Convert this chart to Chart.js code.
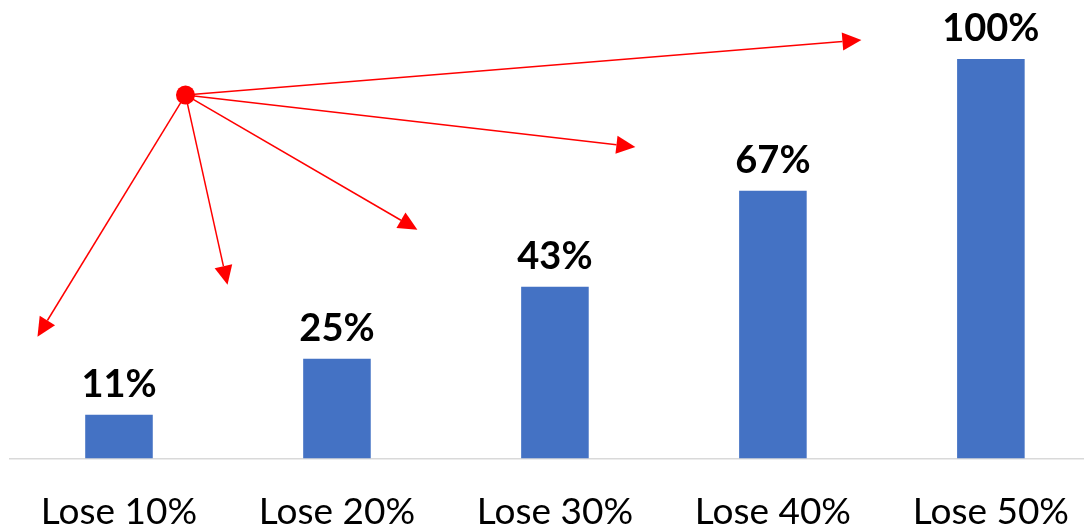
<!DOCTYPE html>
<html>
<head>
<meta charset="utf-8">
<script src="https://cdn.jsdelivr.net/npm/chart.js@4/dist/chart.umd.min.js"></script>
<style>
  html, body { margin: 0; padding: 0; background: #fff; overflow: hidden; }
  #wrap { width: 1100px; height: 565px; }
</style>
</head>
<body>
<div id="wrap"><canvas id="chart"></canvas></div>
<script>
// chart data
const categories = ['Lose 10%', 'Lose 20%', 'Lose 30%', 'Lose 40%', 'Lose 50%'];
const values = [11, 25, 43, 67, 100];

// arrows: one shared start point, tips given in data space (category index, value)
const arrowStart = [0.305, 91];
const arrowTipsX = [-0.374, 0.498, 1.369, 2.369, 3.406];
const arrowTipsY = [30.5, 43.5, 57.25, 78, 104.75];

// value labels above the bars
const barLabels = {
    id: 'barLabels',
    afterDatasetsDraw(chart) {
        let ctx = chart.ctx;
        let meta = chart.getDatasetMeta(0);
        ctx.save();
        ctx.font = 'bold 38px Lato, "Open Sans", sans-serif';
        ctx.fillStyle = '#000';
        ctx.textAlign = 'center';
        ctx.textBaseline = 'alphabetic';
        meta.data.forEach((bar, i) => {
            ctx.fillText(values[i] + '%', bar.x, bar.y - 18);
        });
        ctx.restore();
    }
};

// red arrows drawn through the chart scales
const arrows = {
    id: 'arrows',
    afterDatasetsDraw(chart) {
        let ctx = chart.ctx;
        let xs = chart.scales.x, ys = chart.scales.y;
        let sx = xs.getPixelForValue(arrowStart[0]);
        let sy = ys.getPixelForValue(arrowStart[1]);
        ctx.save();
        ctx.strokeStyle = '#ff0000';
        ctx.fillStyle = '#ff0000';
        ctx.lineWidth = 1.5;
        arrowTipsX.forEach((tx, i) => {
            let ex = xs.getPixelForValue(tx);
            let ey = ys.getPixelForValue(arrowTipsY[i]);
            let ang = Math.atan2(ey - sy, ex - sx);
            let len = 19, half = 9;
            let bx = ex - len * Math.cos(ang), by = ey - len * Math.sin(ang);
            ctx.beginPath();
            ctx.moveTo(sx, sy);
            ctx.lineTo(bx, by);
            ctx.stroke();
            ctx.beginPath();
            ctx.moveTo(ex, ey);
            ctx.lineTo(bx + half * Math.sin(ang), by - half * Math.cos(ang));
            ctx.lineTo(bx - half * Math.sin(ang), by + half * Math.cos(ang));
            ctx.closePath();
            ctx.fill();
        });
        ctx.beginPath();
        ctx.arc(sx, sy, 9.5, 0, Math.PI * 2);
        ctx.fill();
        ctx.restore();
    }
};

new Chart(document.getElementById('chart'), {
    type: 'bar',
    data: {
        labels: categories,
        datasets: [{
            data: values,
            backgroundColor: '#4472C4',
            borderWidth: 0,
            barPercentage: 0.62,
            categoryPercentage: 0.5
        }]
    },
    options: {
        responsive: true,
        maintainAspectRatio: false,
        animation: false,
        layout: { padding: { top: 19, left: 10, right: 0, bottom: 0 } },
        plugins: {
            legend: { display: false },
            tooltip: { enabled: false }
        },
        scales: {
            x: {
                grid: { display: false, drawTicks: false },
                border: { display: true, color: '#d9d9d9', width: 1.5 },
                ticks: {
                    color: '#000',
                    padding: 31,
                    font: { family: 'Lato, "Open Sans", sans-serif', size: 37 }
                }
            },
            y: {
                display: false,
                min: 0,
                max: 110
            }
        }
    },
    plugins: [barLabels, arrows]
});
</script>
</body>
</html>
